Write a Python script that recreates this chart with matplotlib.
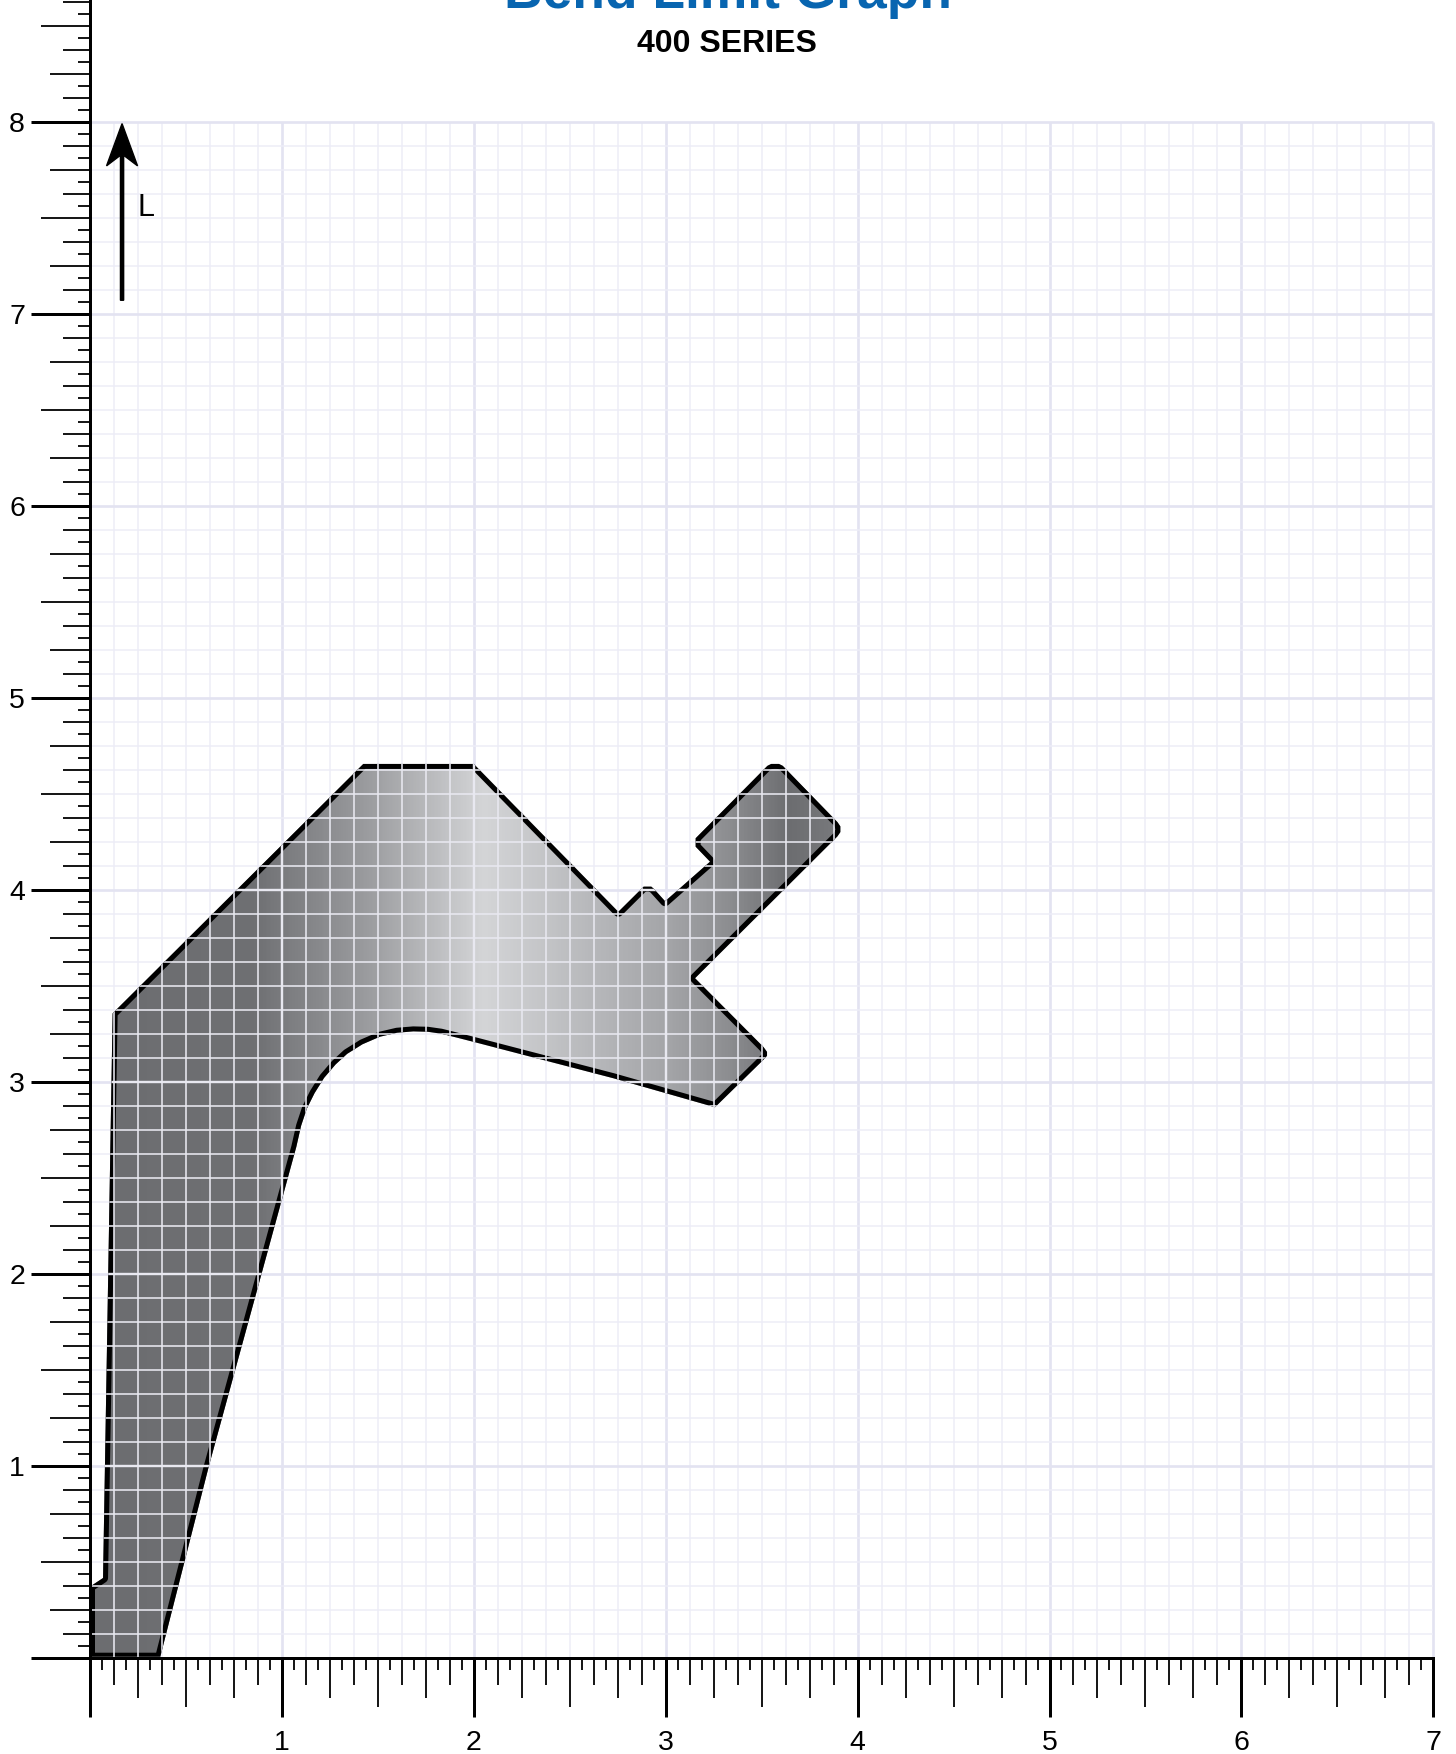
import numpy as np
import matplotlib
matplotlib.use("Agg")
import matplotlib.pyplot as plt
from matplotlib.patches import Polygon
from matplotlib.colors import LinearSegmentedColormap, Normalize

plt.rcParams['font.family'] = ['Liberation Sans', 'DejaVu Sans']

# ---------------- data ----------------
title = "Bend Limit Graph"
subtitle = "400 SERIES"
x_tick_values = [0, 1, 2, 3, 4, 5, 6, 7]
x_tick_labels = ["", "1", "2", "3", "4", "5", "6", "7"]
y_tick_values = [0, 1, 2, 3, 4, 5, 6, 7, 8]
y_tick_labels = ["", "1", "2", "3", "4", "5", "6", "7", "8"]
arrow_label = "L"

# outline of the bend-limit region (counter-clockwise from origin)
region_x = [0.000, 0.365, 0.620, 1.075, 1.100, 1.130, 1.170, 1.220, 1.280, 1.340,
            1.420, 1.510, 1.600, 1.685, 1.760, 1.830, 1.910, 2.000, 2.727, 3.257,
            3.510, 3.528, 3.528, 3.510, 3.153, 3.895, 3.910, 3.910, 3.895, 3.610,
            3.590, 3.550, 3.530, 3.156, 3.156, 3.231, 2.997, 2.940, 2.925, 2.885,
            2.872, 2.753, 2.000, 1.424, 0.118, 0.068, 0.000]
region_y = [0.000, 0.000, 1.000, 2.660, 2.770, 2.860, 2.940, 3.020, 3.090, 3.145,
            3.195, 3.234, 3.255, 3.262, 3.260, 3.250, 3.230, 3.207, 3.018, 2.867,
            3.115, 3.135, 3.155, 3.180, 3.539, 4.278, 4.300, 4.330, 4.352, 4.645,
            4.655, 4.655, 4.645, 4.268, 4.224, 4.146, 3.940, 4.003, 4.016, 4.016,
            4.003, 3.885, 4.655, 4.655, 3.356, 0.415, 0.370]

# ---------------- layout / style ----------------
W, H = 1456, 1754
X0, Y0, SX, SY = 90.0, 1657.7, 191.9, 192.0   # pixel position of origin, px per unit
PT = 0.72                                       # points per pixel at dpi 100

fig = plt.figure(figsize=(W / 100, H / 100), dpi=100)
ax = fig.add_axes([0, 0, 1, 1])
ax.set_xlim(-X0 / SX, (W - X0) / SX)
ax.set_ylim(-(H - Y0) / SY, Y0 / SY)
ax.set_facecolor('white')

xmax_grid, ymax_grid = 7, 8
grid_minor = '#ededf7'
grid_major = '#e3e3f1'

# background grid (1/8 unit)
gx = np.arange(0, xmax_grid * 8 + 1) / 8
gy = np.arange(0, ymax_grid * 8 + 1) / 8
for v in gx:
    major = abs(v - round(v)) < 1e-9
    ax.vlines(v, 0, ymax_grid, color=grid_major if major else grid_minor,
              lw=(2.7 if major else 1.5) * PT, zorder=1)
for v in gy:
    major = abs(v - round(v)) < 1e-9
    ax.hlines(v, 0, xmax_grid, color=grid_major if major else grid_minor,
              lw=(2.7 if major else 1.5) * PT, zorder=1)

# region with horizontal gradient
poly = Polygon(np.column_stack([region_x, region_y]), closed=True,
               facecolor='none', edgecolor='none', zorder=2)
ax.add_patch(poly)
stops = [(0.00, '#6c6d70'), (0.85, '#6f7073'), (1.45, '#9c9da0'), (2.05, '#d4d5d7'),
         (2.60, '#b8b9bc'), (3.05, '#a2a3a6'), (3.35, '#8b8c8f'), (3.65, '#6c6d70'),
         (3.95, '#7b7c7f')]
gmax = 3.95
cmap = LinearSegmentedColormap.from_list('bend', [(p / gmax, c) for p, c in stops])
grad = np.linspace(0, gmax, 500)[None, :]
im = ax.imshow(grad, extent=(0, gmax, 0, 4.7), origin='lower', aspect='auto',
               cmap=cmap, norm=Normalize(0, gmax), interpolation='bilinear', zorder=2)
im.set_clip_path(poly)

# outline (only inner half visible -> lies inside the region)
outline = Polygon(np.column_stack([region_x, region_y]), closed=True,
                  facecolor='none', edgecolor='black', lw=10 * PT, zorder=3,
                  joinstyle='round')
ax.add_patch(outline)
outline.set_clip_path(poly)

# white grid over the region
for v in gx:
    major = abs(v - round(v)) < 1e-9
    ln = ax.vlines(v, 0, ymax_grid, color='#e8e8f0', lw=(2.4 if major else 1.6) * PT, zorder=4)
    ln.set_clip_path(poly)
for v in gy:
    major = abs(v - round(v)) < 1e-9
    ln = ax.hlines(v, 0, xmax_grid, color='#e8e8f0', lw=(2.4 if major else 1.6) * PT, zorder=4)
    ln.set_clip_path(poly)

# axes (spines at data 0) and integer ticks
for s in ['top', 'right']:
    ax.spines[s].set_visible(False)
ax.spines['left'].set_position(('data', 0))
ax.spines['bottom'].set_position(('data', 0))
ax.spines['left'].set_bounds(0, Y0 / SY + 0.1)
ax.spines['bottom'].set_bounds(0, xmax_grid)
for s in ['left', 'bottom']:
    ax.spines[s].set_linewidth(3 * PT)
    ax.spines[s].set_zorder(6)
ax.set_xticks(x_tick_values, x_tick_labels)
ax.set_yticks(y_tick_values, y_tick_labels)
ax.tick_params(axis='x', direction='out', length=59 * PT, width=3 * PT, pad=13 * PT,
               labelsize=20.5, bottom=True)
ax.tick_params(axis='y', direction='out', length=59 * PT, width=3 * PT, pad=6 * PT,
               labelsize=20.5, left=True)

# ruler sub-ticks (1/16 unit)
def tick_len(k):
    if k % 8 == 0:
        return 49
    if k % 4 == 0:
        return 40
    if k % 2 == 0:
        return 27
    return 12

for k in range(1, xmax_grid * 16):
    if k % 16 == 0:
        continue
    ax.vlines(k / 16, -tick_len(k) / SY, 0, color='black', lw=1.8 * PT, zorder=6,
              clip_on=False)
for k in range(1, int(Y0 / SY * 16) + 2):
    if k % 16 == 0:
        continue
    ax.hlines(k / 16, -tick_len(k) / SX, 0, color='black', lw=1.8 * PT, zorder=6,
              clip_on=False)

# direction arrow
ax.arrow(0.167, 7.07, 0, 0.92, width=3.2 / SX, head_width=31 / SX, head_length=0.22,
         overhang=0.25, length_includes_head=True, color='black', zorder=6)
ax.text(0.29, 7.55, arrow_label, fontsize=22, ha='center', va='center', zorder=6)

# titles
fig.text(728 / W, 1 - 8 / H, title, fontsize=38.4, fontweight='bold', color='#0865b0',
         ha='center', va='baseline')
fig.text(727 / W, 1 - 52 / H, subtitle, fontsize=23, fontweight='bold', color='black',
         ha='center', va='baseline')

fig.savefig('out.png', dpi=100)
